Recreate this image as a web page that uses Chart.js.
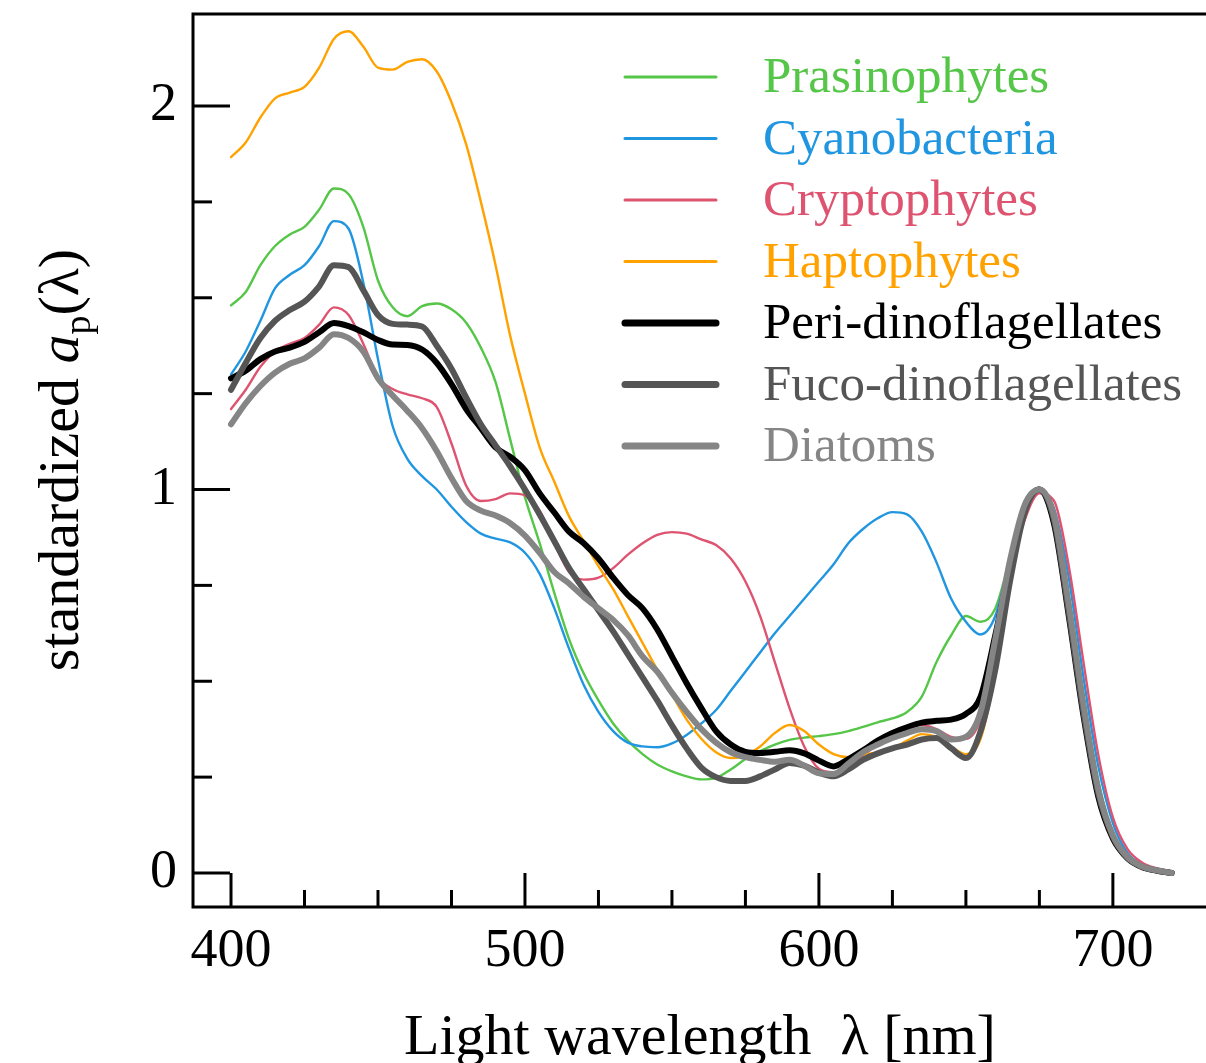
<!DOCTYPE html>
<html>
<head>
<meta charset="utf-8">
<script src="https://cdn.jsdelivr.net/npm/chart.js@4.4.0/dist/chart.umd.min.js"></script>
<style>
  html, body { margin: 0; padding: 0; overflow: hidden; background: #fff; }
  #wrap { width: 1214px; height: 1063px; position: relative; }
</style>
</head>
<body>
<div id="wrap"><canvas id="chart"></canvas></div>
<script>
// wavelength grid [nm]
const wavelengths = [400, 405, 410, 415, 420, 425, 430, 435, 440, 445, 450, 455, 460, 465, 470, 475,
  480, 485, 490, 495, 500, 505, 510, 515, 520, 525, 530, 535, 540, 545, 550, 555, 560, 565, 570, 575,
  580, 585, 590, 595, 600, 605, 610, 615, 620, 625, 630, 635, 640, 645, 650, 655, 660, 665, 670, 675,
  680, 685, 690, 695, 700, 705, 710, 715, 720];

// standardized a_p(lambda)
const prasinophytes = [1.48, 1.515, 1.585, 1.635, 1.665, 1.685, 1.73, 1.785, 1.77, 1.685, 1.545, 1.475, 1.452, 1.478, 1.485, 1.47,
  1.435, 1.37, 1.28, 1.13, 0.98, 0.86, 0.73, 0.61, 0.52, 0.45, 0.39, 0.345, 0.31, 0.283, 0.265, 0.252, 0.244, 0.248, 0.27, 0.297,
  0.318, 0.335, 0.347, 0.353, 0.357, 0.362, 0.37, 0.381, 0.393, 0.403, 0.42, 0.46, 0.55, 0.62, 0.67, 0.655, 0.69, 0.82, 0.96, 1.0,
  0.93, 0.72, 0.46, 0.24, 0.105, 0.044, 0.018, 0.007, 0.0];
const cyanobacteria = [1.30, 1.36, 1.44, 1.525, 1.56, 1.585, 1.635, 1.7, 1.68, 1.54, 1.34, 1.165, 1.08, 1.035, 1.0, 0.955,
  0.915, 0.885, 0.872, 0.862, 0.835, 0.78, 0.69, 0.585, 0.49, 0.42, 0.37, 0.34, 0.33, 0.328, 0.338, 0.36, 0.39, 0.425, 0.475, 0.525,
  0.575, 0.625, 0.67, 0.715, 0.76, 0.805, 0.86, 0.897, 0.925, 0.941, 0.935, 0.89, 0.81, 0.715, 0.655, 0.622, 0.67, 0.82, 0.95, 0.995,
  0.95, 0.77, 0.51, 0.28, 0.13, 0.052, 0.022, 0.009, 0.002];
const cryptophytes = [1.21, 1.26, 1.32, 1.36, 1.38, 1.395, 1.43, 1.475, 1.455, 1.38, 1.293, 1.262, 1.248, 1.238, 1.215, 1.12,
  1.01, 0.97, 0.975, 0.99, 0.985, 0.945, 0.86, 0.785, 0.765, 0.77, 0.795, 0.83, 0.86, 0.882, 0.889, 0.885, 0.87, 0.855, 0.82, 0.76,
  0.67, 0.55, 0.43, 0.33, 0.272, 0.263, 0.28, 0.305, 0.338, 0.365, 0.382, 0.386, 0.375, 0.355, 0.35, 0.40, 0.56, 0.77, 0.92, 0.99,
  0.97, 0.80, 0.55, 0.31, 0.145, 0.062, 0.027, 0.012, 0.004];
const haptophytes = [1.867, 1.905, 1.97, 2.02, 2.035, 2.05, 2.10, 2.175, 2.195, 2.155, 2.10, 2.095, 2.115, 2.122, 2.09, 2.01,
  1.90, 1.75, 1.585, 1.40, 1.25, 1.11, 1.02, 0.93, 0.865, 0.80, 0.74, 0.67, 0.60, 0.53, 0.465, 0.40, 0.35, 0.315, 0.30, 0.307,
  0.33, 0.365, 0.386, 0.37, 0.335, 0.31, 0.302, 0.308, 0.315, 0.325, 0.345, 0.362, 0.355, 0.33, 0.31, 0.35, 0.52, 0.76, 0.94, 1.0,
  0.90, 0.66, 0.40, 0.195, 0.088, 0.036, 0.014, 0.005, 0.0];
const periDino = [1.29, 1.31, 1.34, 1.36, 1.37, 1.385, 1.41, 1.434, 1.426, 1.41, 1.39, 1.378, 1.377, 1.365, 1.33, 1.275,
  1.21, 1.16, 1.11, 1.085, 1.05, 0.99, 0.94, 0.89, 0.86, 0.82, 0.77, 0.725, 0.69, 0.635, 0.565, 0.495, 0.43, 0.37, 0.335, 0.316,
  0.313, 0.316, 0.32, 0.312, 0.293, 0.278, 0.297, 0.32, 0.345, 0.365, 0.38, 0.392, 0.397, 0.40, 0.415, 0.46, 0.62, 0.80, 0.95, 1.0,
  0.91, 0.67, 0.41, 0.20, 0.09, 0.038, 0.015, 0.006, 0.0];
const fucoDino = [1.26, 1.33, 1.395, 1.44, 1.468, 1.49, 1.53, 1.585, 1.58, 1.52, 1.455, 1.432, 1.43, 1.425, 1.375, 1.315,
  1.24, 1.17, 1.115, 1.06, 1.0, 0.935, 0.865, 0.795, 0.74, 0.685, 0.63, 0.57, 0.51, 0.45, 0.385, 0.325, 0.275, 0.25, 0.24, 0.24,
  0.252, 0.27, 0.287, 0.28, 0.262, 0.252, 0.27, 0.295, 0.312, 0.325, 0.335, 0.348, 0.352, 0.325, 0.30, 0.37, 0.53, 0.76, 0.94, 1.0,
  0.92, 0.68, 0.42, 0.21, 0.095, 0.039, 0.016, 0.006, 0.0];
const diatoms = [1.17, 1.225, 1.27, 1.305, 1.328, 1.342, 1.37, 1.405, 1.395, 1.36, 1.29, 1.245, 1.205, 1.16, 1.10, 1.03,
  0.97, 0.945, 0.932, 0.912, 0.88, 0.835, 0.785, 0.755, 0.72, 0.69, 0.66, 0.62, 0.565, 0.525, 0.47, 0.42, 0.375, 0.34, 0.315, 0.302,
  0.295, 0.29, 0.295, 0.28, 0.26, 0.258, 0.285, 0.315, 0.335, 0.352, 0.365, 0.375, 0.37, 0.348, 0.355, 0.42, 0.61, 0.815, 0.96, 1.0,
  0.93, 0.70, 0.44, 0.22, 0.098, 0.041, 0.017, 0.007, 0.0];

const seriesNames = ["Prasinophytes", "Cyanobacteria", "Cryptophytes", "Haptophytes",
  "Peri-dinoflagellates", "Fuco-dinoflagellates", "Diatoms"];
const seriesValues = [prasinophytes, cyanobacteria, cryptophytes, haptophytes, periDino, fucoDino, diatoms];
const seriesColors = ["#55c648", "#2196e0", "#de5470", "#ffa200", "#000000", "#555555", "#858585"];
const seriesWidths = [2.4, 2.4, 2.4, 2.4, 6, 6, 6];

const xTicks = [400, 425, 450, 475, 500, 525, 550, 575, 600, 625, 650, 675, 700];
const xLabelTicks = [400, 500, 600, 700];
const yTicks = [0, 0.25, 0.5, 0.75, 1, 1.25, 1.5, 1.75, 2];
const yLabelTicks = [0, 1, 2];

const SERIF = "'Liberation Serif', 'Times New Roman', serif";

const datasets = seriesNames.map((name, i) => ({
  label: name,
  data: wavelengths.map((w, j) => ({ x: w, y: seriesValues[i][j] })),
  borderColor: seriesColors[i],
  borderWidth: seriesWidths[i],
  pointRadius: 0,
  fill: false,
  cubicInterpolationMode: "monotone",
  borderCapStyle: "round",
  borderJoinStyle: "round",
  order: seriesNames.length - 1 - i
}));

// frame + inward ticks
const framePlugin = {
  id: "frame",
  beforeDatasetsDraw(chart) {
    const { ctx, chartArea: a, scales } = chart;
    ctx.save();
    ctx.strokeStyle = "#000";
    ctx.lineWidth = 3;
    ctx.lineCap = "butt";
    ctx.beginPath();
    ctx.moveTo(a.right + 5, a.top);
    ctx.lineTo(a.left, a.top);
    ctx.lineTo(a.left, a.bottom);
    ctx.lineTo(a.right + 5, a.bottom);
    ctx.stroke();
    xTicks.forEach(v => {
      const px = scales.x.getPixelForValue(v);
      const len = xLabelTicks.includes(v) ? 34 : 17;
      ctx.beginPath();
      ctx.moveTo(px, a.bottom);
      ctx.lineTo(px, a.bottom - len);
      ctx.stroke();
    });
    yTicks.forEach(v => {
      const py = scales.y.getPixelForValue(v);
      const len = yLabelTicks.includes(v) ? 37 : 19;
      ctx.beginPath();
      ctx.moveTo(a.left, py);
      ctx.lineTo(a.left + len, py);
      ctx.stroke();
    });
    ctx.restore();
  }
};

// legend inside the plot, top right
const legendPlugin = {
  id: "inlineLegend",
  afterDraw(chart) {
    const ctx = chart.ctx;
    ctx.save();
    ctx.font = "51px " + SERIF;
    ctx.textBaseline = "middle";
    ctx.textAlign = "left";
    chart.data.datasets.forEach((ds, i) => {
      const y = 77 + i * 61.5;
      ctx.strokeStyle = ds.borderColor;
      ctx.lineWidth = ds.borderWidth > 3 ? 7 : 3;
      ctx.lineCap = "round";
      ctx.beginPath();
      ctx.moveTo(625, y);
      ctx.lineTo(716, y);
      ctx.stroke();
      ctx.fillStyle = ds.borderColor;
      ctx.fillText(ds.label, 763, y + 2);
    });
    ctx.restore();
  }
};

// axis titles
const titlePlugin = {
  id: "axisTitles",
  afterDraw(chart) {
    const ctx = chart.ctx;
    ctx.save();
    ctx.fillStyle = "#000";
    ctx.textBaseline = "alphabetic";
    ctx.textAlign = "center";
    ctx.font = "58px " + SERIF;
    ctx.fillText("Light wavelength  \u03bb [nm]", 700, 1054);

    // y title: standardized a_p(λ)
    const parts = [
      { t: "standardized ", f: "58px " + SERIF, dy: 0 },
      { t: "a", f: "italic 58px " + SERIF, dy: 0 },
      { t: "p", f: "38px " + SERIF, dy: 12 },
      { t: "(\u03bb)", f: "58px " + SERIF, dy: 0 }
    ];
    let total = 0;
    parts.forEach(p => { ctx.font = p.f; p.w = ctx.measureText(p.t).width; total += p.w; });
    ctx.translate(78, 460);
    ctx.rotate(-Math.PI / 2);
    ctx.textAlign = "left";
    let x = -total / 2;
    parts.forEach(p => {
      ctx.font = p.f;
      ctx.fillText(p.t, x, p.dy);
      x += p.w;
    });
    ctx.restore();
  }
};

new Chart(document.getElementById("chart"), {
  type: "line",
  data: { datasets },
  options: {
    responsive: true,
    maintainAspectRatio: false,
    animation: false,
    layout: { padding: { top: 14, right: 0, bottom: 0, left: 0 } },
    plugins: { legend: { display: false }, tooltip: { enabled: false } },
    scales: {
      x: {
        type: "linear",
        min: 387.07,
        max: 734.4,
        grid: { display: false, drawTicks: false },
        border: { display: false },
        afterBuildTicks: s => { s.ticks = xTicks.map(v => ({ value: v })); },
        afterFit: s => { s.height = 156; s.paddingLeft = 0; s.paddingRight = 0; },
        ticks: {
          autoSkip: false,
          maxRotation: 0,
          padding: 12,
          color: "#000",
          font: { family: SERIF, size: 54 },
          callback: v => xLabelTicks.includes(v) ? String(v) : ""
        }
      },
      y: {
        min: -0.0887,
        max: 2.24,
        grid: { display: false, drawTicks: false },
        border: { display: false },
        afterBuildTicks: s => { s.ticks = yTicks.map(v => ({ value: v })); },
        afterFit: s => { s.width = 193; s.paddingTop = 0; s.paddingBottom = 0; },
        ticks: {
          autoSkip: false,
          padding: 16,
          color: "#000",
          font: { family: SERIF, size: 54 },
          callback: v => yLabelTicks.includes(v) ? String(v) : ""
        }
      }
    }
  },
  plugins: [framePlugin, legendPlugin, titlePlugin]
});
</script>
</body>
</html>
